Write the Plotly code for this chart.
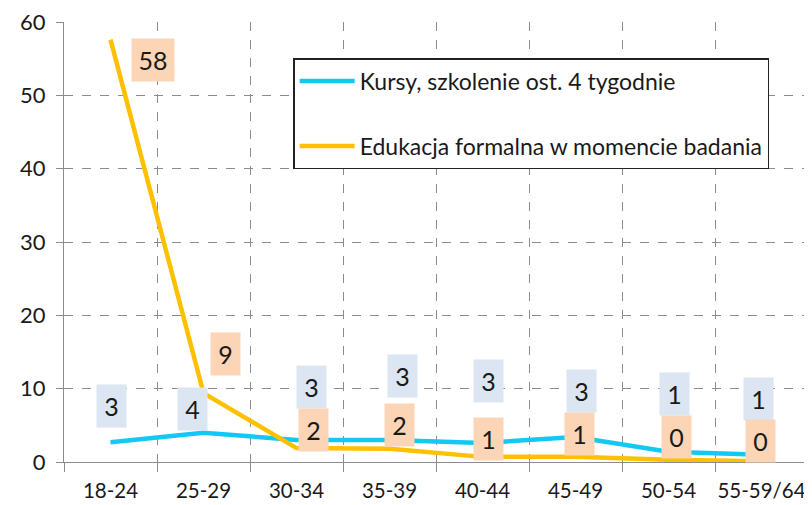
import plotly.graph_objects as go

# Dane
grupy_wieku = ["18-24", "25-29", "30-34", "35-39", "40-44", "45-49", "50-54", "55-59/64"]
kursy = [2.7, 4.0, 3.0, 3.0, 2.6, 3.4, 1.4, 1.0]
edukacja = [57.6, 9.4, 1.9, 1.8, 0.7, 0.7, 0.3, 0.1]

# przesunięcia etykiet w pikselach (dx, dy)
przes_kursy = [(1, 36), (-11, 24), (15, 53), (13, 64), (6, 62), (6, 46), (6, 58), (-3, 56)]
przes_edu = [(42, -20), (22, 39), (17, 18), (10, 24), (6, 18), (4, 23), (8, 23), (-1, 20)]

NIEBIESKI = "#14c8f4"
POMARANCZ = "#ffc000"
FONT = "Lato, 'Open Sans', sans-serif"

fig = go.Figure()
fig.add_trace(go.Scatter(x=grupy_wieku, y=kursy, mode="lines", name="Kursy, szkolenie ost. 4 tygodnie",
                         line=dict(color=NIEBIESKI, width=4.5), legendgroup="a"))
fig.add_trace(go.Scatter(x=grupy_wieku, y=edukacja, mode="lines", name="Edukacja formalna w momencie badania",
                         line=dict(color=POMARANCZ, width=4.5), legendgroup="b"))

adnotacje = []
for wartosci, przes, tlo in [(kursy, przes_kursy, "#dce6f2"), (edukacja, przes_edu, "#fbd5b5")]:
    for g, v, (dx, dy) in zip(grupy_wieku, wartosci, przes):
        tekst = f"{v:.0f}"
        adnotacje.append(dict(
            x=g, y=v, xref="x", yref="y", text=tekst, showarrow=False,
            xshift=dx, yshift=dy, bgcolor=tlo, width=27 if len(tekst) == 1 else 40, height=40,
            font=dict(size=25, color="#1a1a1a", family=FONT), align="center", valign="middle",
        ))

fig.update_layout(
    width=812, height=505,
    margin=dict(l=56, r=12, t=14, b=51),
    paper_bgcolor="white", plot_bgcolor="white",
    font=dict(family=FONT, size=22, color="#1a1a1a"),
    annotations=adnotacje,
    showlegend=True,
    legend=dict(
        x=0.308, y=0.918, xanchor="left", yanchor="top",
        bordercolor="#222", borderwidth=1.5, bgcolor="white",
        font=dict(size=23, family=FONT), tracegroupgap=32,
        itemwidth=55,
    ),
    xaxis=dict(
        range=[-0.5, 7.5], tickson="boundaries", ticks="outside", ticklen=9,
        tickcolor="#8c8c8c", showline=True, linecolor="#8c8c8c", linewidth=1.2,
        showgrid=True, gridcolor="#8c8c8c", griddash="dash", gridwidth=1,
        ticklabelstandoff=10, zeroline=False, tickangle=0, automargin=False,
        ticklabeloverflow="allow", tickfont=dict(size=20.5),
    ),
    yaxis=dict(
        range=[0, 60], dtick=10, ticks="outside", ticklen=7,
        tickcolor="#8c8c8c", showline=True, linecolor="#8c8c8c", linewidth=1.2,
        showgrid=True, gridcolor="#8c8c8c", griddash="dash", gridwidth=1,
        zeroline=False, ticklabelstandoff=6, automargin=False,
        ticklabeloverflow="allow",
    ),
)

fig.write_html("out.html")
